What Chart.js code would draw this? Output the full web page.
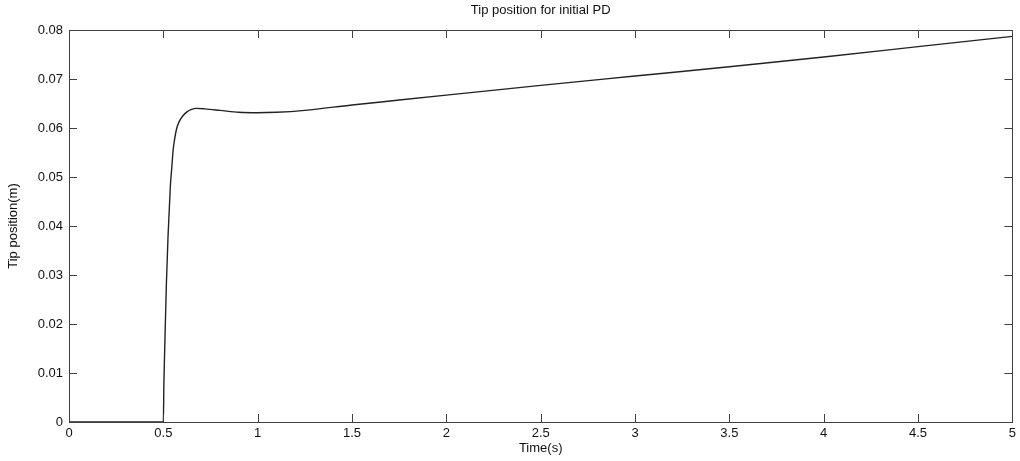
<!DOCTYPE html>
<html>
<head>
<meta charset="utf-8">
<title>Tip position for initial PD</title>
<script src="https://cdn.jsdelivr.net/npm/chart.js@4/dist/chart.umd.min.js"></script>
<style>
  html, body { margin: 0; padding: 0; background: #fff; }
  #wrap { width: 1020px; height: 461px; }
</style>
</head>
<body>
<div id="wrap"><canvas id="tipChart" width="1020" height="461"></canvas></div>
<script>
// time samples (s) and tip position (m)
const timeS = [0, 0.5, 0.503, 0.508, 0.516, 0.525, 0.537, 0.545, 0.552, 0.56, 0.57, 0.585,
  0.604, 0.625, 0.65, 0.675, 0.72, 0.8, 0.9, 1.0, 1.1, 1.25, 1.5, 1.75, 2, 2.5, 3, 3.5, 4, 4.5, 5];
const tipPos = [0, 0, 0.008, 0.016, 0.028, 0.038, 0.048, 0.052, 0.0555, 0.0578, 0.0598, 0.0614,
  0.0625, 0.0633, 0.0638, 0.0640, 0.0639, 0.0636, 0.0632, 0.0631, 0.0632, 0.0636, 0.0647, 0.0657,
  0.0667, 0.0687, 0.0706, 0.0725, 0.0745, 0.0766, 0.0787];
const xTicks = [0, 0.5, 1, 1.5, 2, 2.5, 3, 3.5, 4, 4.5, 5];
const yTicks = [0, 0.01, 0.02, 0.03, 0.04, 0.05, 0.06, 0.07, 0.08];

const FONT = 'Liberation Sans, Arial, sans-serif';
const AXIS = '#404040';

// matlab-style frame: box around the plot plus ticks pointing inwards on all sides
const frameTicks = {
  id: 'frameTicks',
  afterDatasetsDraw(chart) {
    const { ctx, chartArea: a, scales } = chart;
    const len = 8;
    ctx.save();
    ctx.strokeStyle = AXIS;
    ctx.lineWidth = 1;
    ctx.beginPath();
    xTicks.forEach(v => {
      const px = Math.round(scales.x.getPixelForValue(v)) + 0.5;
      ctx.moveTo(px, a.bottom); ctx.lineTo(px, a.bottom - len);
      ctx.moveTo(px, a.top); ctx.lineTo(px, a.top + len);
    });
    yTicks.forEach(v => {
      const py = Math.round(scales.y.getPixelForValue(v)) + 0.5;
      ctx.moveTo(a.left, py); ctx.lineTo(a.left + len, py);
      ctx.moveTo(a.right, py); ctx.lineTo(a.right - len, py);
    });
    ctx.stroke();
    ctx.strokeRect(Math.round(a.left) + 0.5, Math.round(a.top) + 0.5,
      Math.round(a.right - a.left), Math.round(a.bottom - a.top));
    // title centred over the axes
    ctx.fillStyle = '#111';
    ctx.font = '13px ' + FONT;
    ctx.textAlign = 'center';
    ctx.textBaseline = 'middle';
    ctx.fillText('Tip position for initial PD', (a.left + a.right) / 2, 10);
    ctx.restore();
  }
};

new Chart(document.getElementById('tipChart'), {
  type: 'line',
  data: {
    datasets: [{
      data: timeS.map((t, i) => ({ x: t, y: tipPos[i] })),
      borderColor: '#222',
      borderWidth: 1.4,
      pointRadius: 0,
      cubicInterpolationMode: 'monotone',
      fill: false
    }]
  },
  options: {
    responsive: false,
    animation: false,
    layout: { padding: { top: 30, right: 4, left: 0, bottom: 0 } },
    plugins: { legend: { display: false }, tooltip: { enabled: false } },
    scales: {
      x: {
        type: 'linear', min: 0, max: 5,
        afterBuildTicks: s => { s.ticks = xTicks.map(v => ({ value: v })); },
        afterFit: s => { s.height = 39; },
        grid: { display: false, drawTicks: false },
        border: { display: false },
        ticks: { color: '#111', font: { family: FONT, size: 13 }, padding: 4, maxRotation: 0,
          callback: v => String(v) },
        title: { display: true, text: 'Time(s)', color: '#111', font: { family: FONT, size: 13 },
          padding: { top: 0, bottom: 5 } }
      },
      y: {
        min: 0, max: 0.08,
        afterBuildTicks: s => { s.ticks = yTicks.map(v => ({ value: v })); },
        afterFit: s => { s.width = 69; },
        grid: { display: false, drawTicks: false },
        border: { display: false },
        ticks: { color: '#111', font: { family: FONT, size: 13 }, padding: 6,
          callback: v => String(+v.toFixed(2)) },
        title: { display: true, text: 'Tip position(m)', color: '#111', font: { family: FONT, size: 13 },
          padding: { top: 6, bottom: 0 } }
      }
    }
  },
  plugins: [frameTicks]
});
</script>
</body>
</html>
